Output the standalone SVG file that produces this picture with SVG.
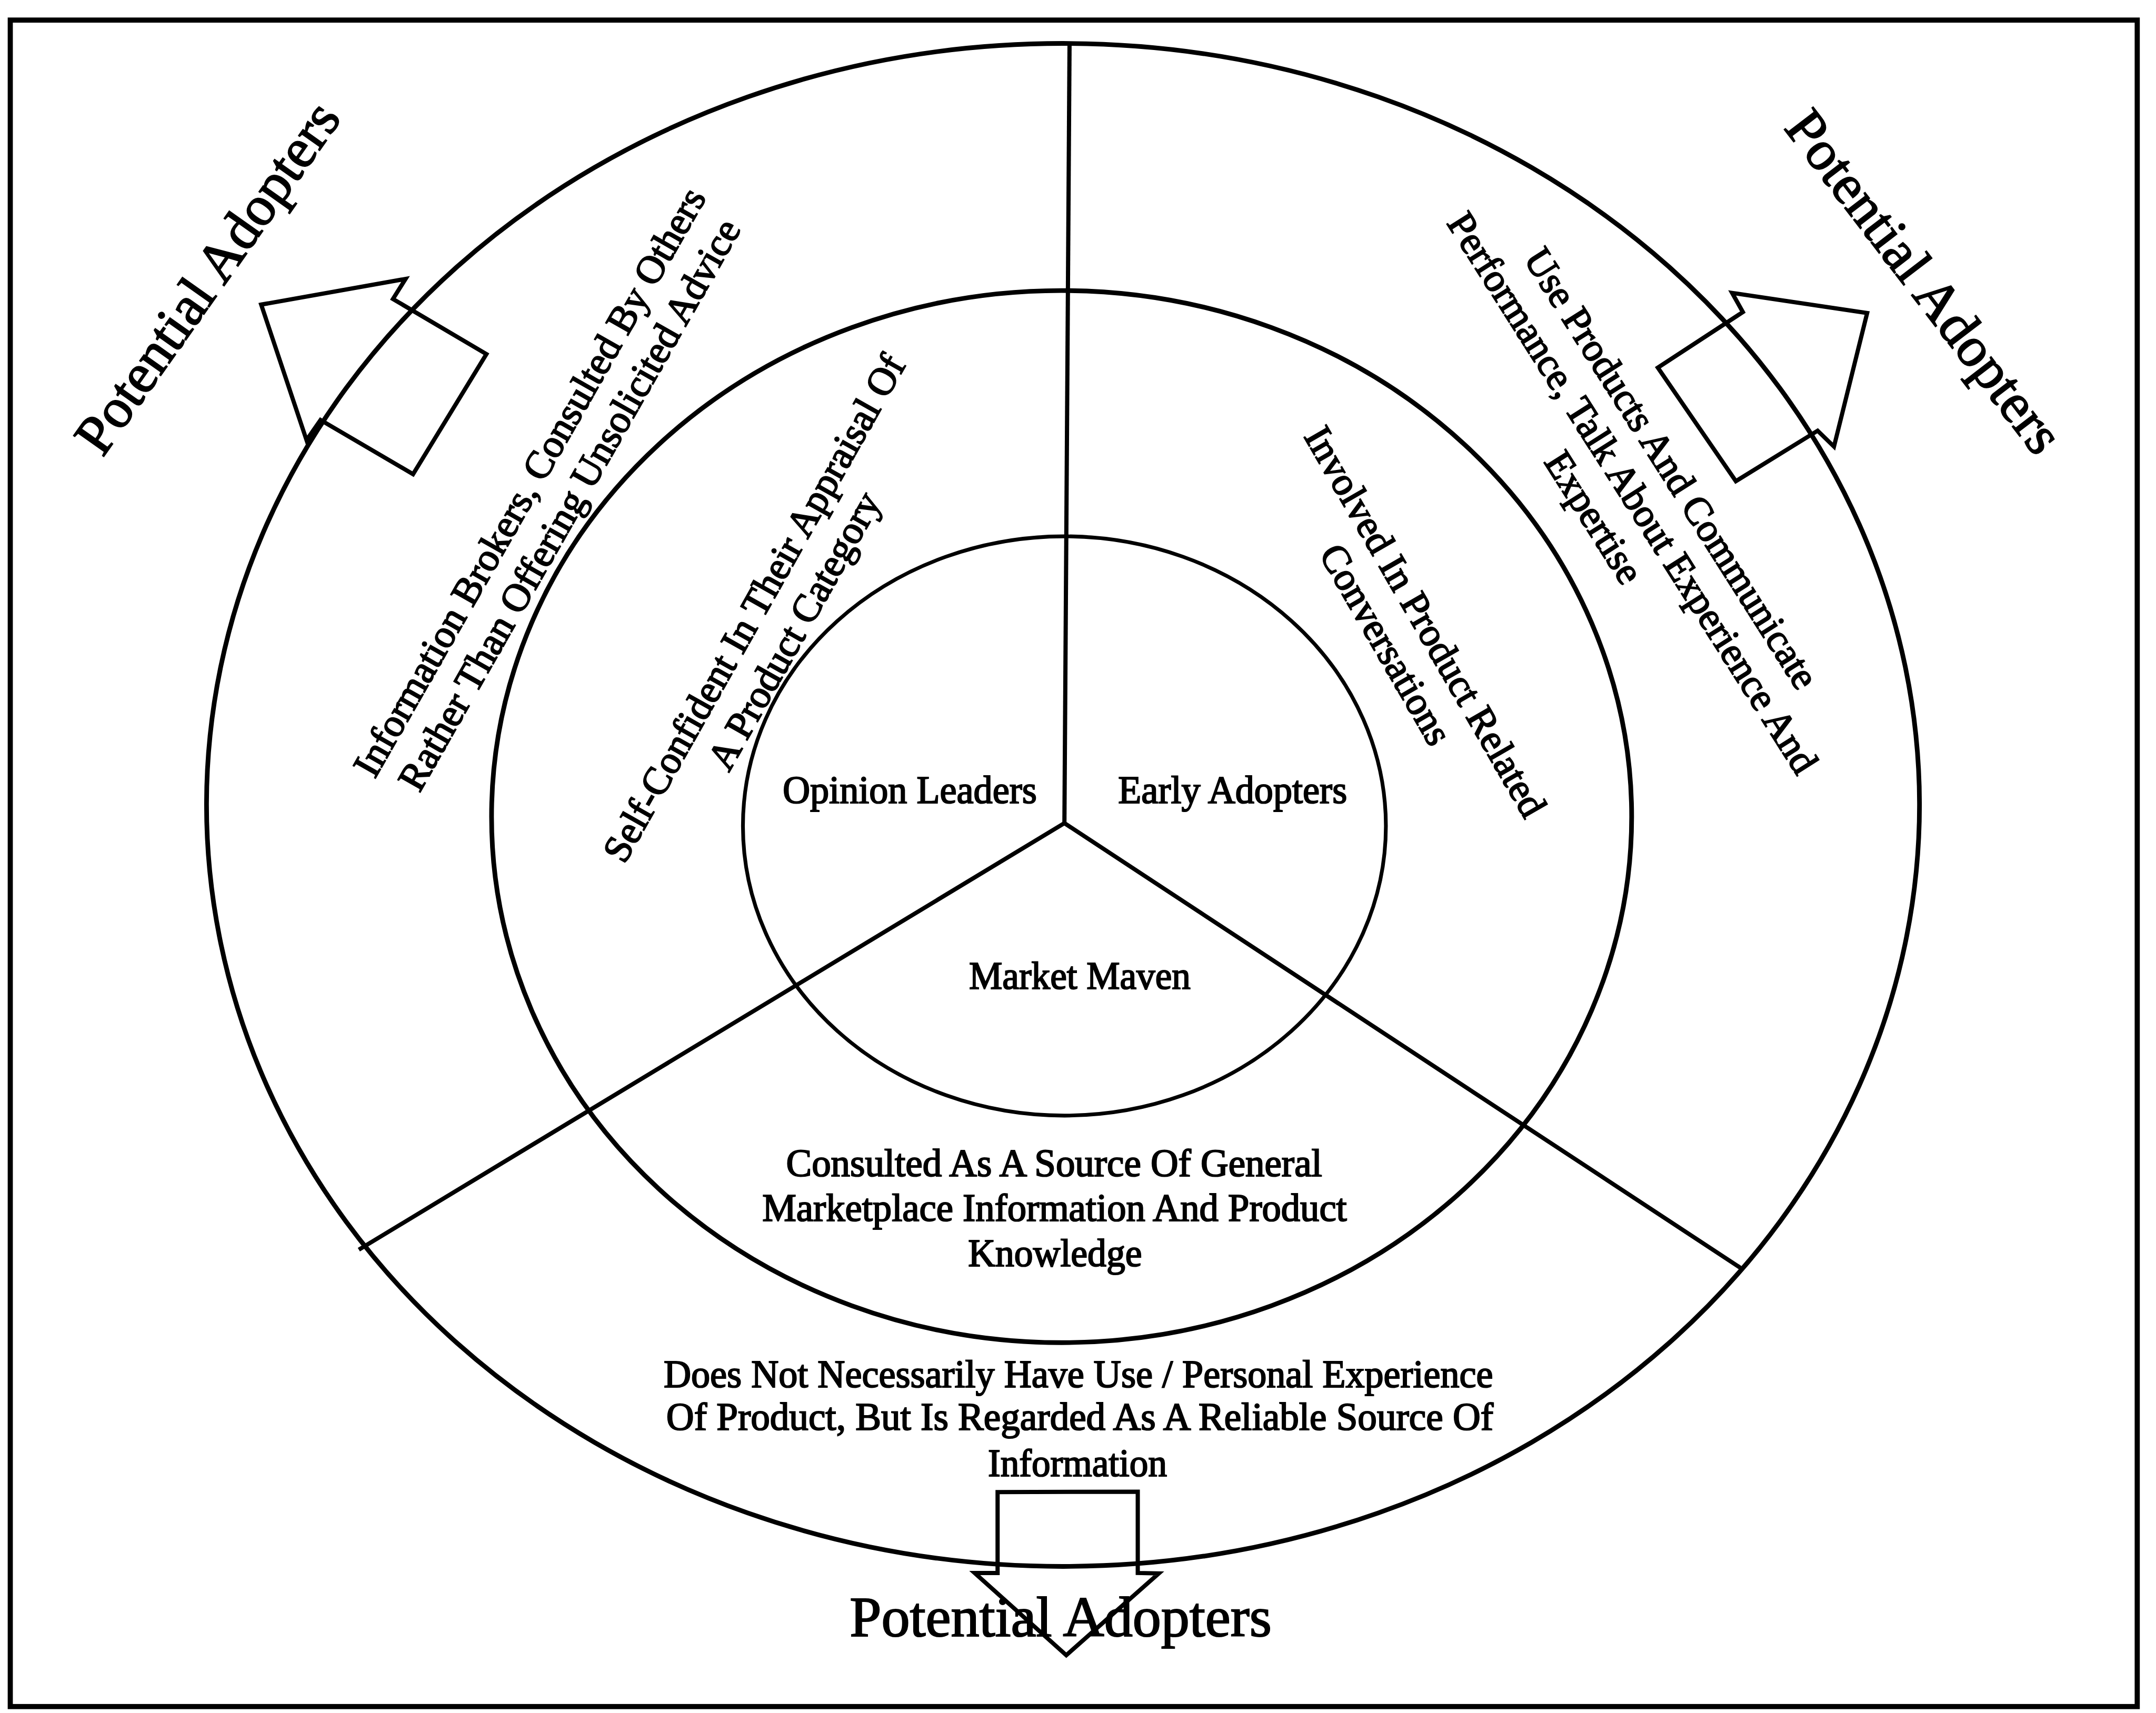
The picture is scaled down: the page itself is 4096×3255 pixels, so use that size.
<svg xmlns="http://www.w3.org/2000/svg" width="4096" height="3255" viewBox="0 0 4096 3255">
<style>
.ln{fill:none;stroke:#000;stroke-linejoin:miter;stroke-linecap:butt}
.t{font-family:"Liberation Serif","Times New Roman",serif;fill:#000;text-anchor:middle;stroke:#000;stroke-width:2.5}
.s84{font-size:84px}
.s120{font-size:120px}
</style>
<rect width="4096" height="3255" fill="#fff"/>
<g transform="scale(0.8877)">
  <rect id="frame" x="22" y="43" width="4552" height="3610" class="ln" stroke-width="11"/>
  <g id="rings">
    <ellipse id="outer-ring" cx="2275" cy="1723" rx="1833" ry="1630" class="ln" stroke-width="10"/>
    <ellipse id="middle-ring" cx="2272" cy="1748" rx="1220" ry="1126" class="ln" stroke-width="10"/>
    <ellipse id="inner-ring" cx="2278" cy="1768" rx="688" ry="620" class="ln" stroke-width="8"/>
  </g>
  <g id="connectors" class="ln" stroke-width="9">
    <line x1="2289" y1="93" x2="2278" y2="1762"/>
    <line x1="2278" y1="1762" x2="768" y2="2675"/>
    <line x1="2278" y1="1762" x2="3725" y2="2714"/>
  </g>
  <g id="arrow-left">
    <polygon class="ln" stroke-width="9" points="559,652 868,597 841,640 1041,758 884,1015 686,899 656,942"/>
  </g>
  <g id="arrow-right">
    <polygon class="ln" stroke-width="9" points="3707,627 3996,670 3925,956 3890,922 3715,1030 3548,787 3730,668"/>
  </g>
  <g id="arrow-bottom">
    <polygon class="ln" stroke-width="9" points="2135,3194 2435,3193 2435,3367 2480,3368 2282,3543 2086,3367 2135,3367"/>
  </g>
  <g id="label-opinion-leaders">
    <text class="t s84" x="1947" y="1719" textLength="544" lengthAdjust="spacingAndGlyphs">Opinion Leaders</text>
  </g>
  <g id="label-early-adopters">
    <text class="t s84" x="2638" y="1719" textLength="490" lengthAdjust="spacingAndGlyphs">Early Adopters</text>
  </g>
  <g id="label-market-maven">
    <text class="t s84" x="2311" y="2117" textLength="474" lengthAdjust="spacingAndGlyphs">Market Maven</text>
  </g>
  <g id="text-information-brokers" transform="translate(1179,1058) rotate(-60.3)">
    <text class="t s84" x="0" y="-25">Information Brokers, Consulted By Others</text>
    <text class="t s84" x="0" y="73">Rather Than Offering Unsolicited Advice</text>
  </g>
  <g id="text-self-confident" transform="translate(1660,1328) rotate(-60.6)">
    <text class="t s84" x="0" y="-25" textLength="1230" lengthAdjust="spacingAndGlyphs">Self-Confident In Their Appraisal Of</text>
    <text class="t s84" x="0" y="73">A Product Category</text>
  </g>
  <g id="text-involved" transform="translate(3005,1357) rotate(60)">
    <text class="t s84" x="0" y="-25">Involved In Product Related</text>
    <text class="t s84" x="0" y="73">Conversations</text>
  </g>
  <g id="text-use-products" transform="translate(3491,1057) rotate(57.6)">
    <text class="t s84" x="0" y="-74">Use Products And Communicate</text>
    <text class="t s84" x="0" y="24">Performance, Talk About Experience And</text>
    <text class="t s84" x="0" y="122">Expertise</text>
  </g>
  <g id="text-consulted">
    <text class="t s84" x="2256" y="2518" textLength="1147" lengthAdjust="spacingAndGlyphs">Consulted As A Source Of General</text>
    <text class="t s84" x="2257" y="2613" textLength="1251" lengthAdjust="spacingAndGlyphs">Marketplace Information And Product</text>
    <text class="t s84" x="2258" y="2710" textLength="372" lengthAdjust="spacingAndGlyphs">Knowledge</text>
  </g>
  <g id="text-does-not">
    <text class="t s84" x="2308" y="2970" textLength="1775" lengthAdjust="spacingAndGlyphs">Does Not Necessarily Have Use / Personal Experience</text>
    <text class="t s84" x="2311" y="3061" textLength="1770" lengthAdjust="spacingAndGlyphs">Of Product, But Is Regarded As A Reliable Source Of</text>
    <text class="t s84" x="2306" y="3160" textLength="383" lengthAdjust="spacingAndGlyphs">Information</text>
  </g>
  <g id="potential-adopters-left" transform="translate(476,617) rotate(-54.8)">
    <text class="t s120" x="0" y="0">Potential Adopters</text>
  </g>
  <g id="potential-adopters-right" transform="translate(4087,627) rotate(52.5)">
    <text class="t s120" x="0" y="0">Potential Adopters</text>
  </g>
  <g id="potential-adopters-bottom">
    <text class="t" style="font-size:121px" x="2270" y="3502" textLength="903" lengthAdjust="spacingAndGlyphs">Potential Adopters</text>
  </g>
</g>
</svg>
